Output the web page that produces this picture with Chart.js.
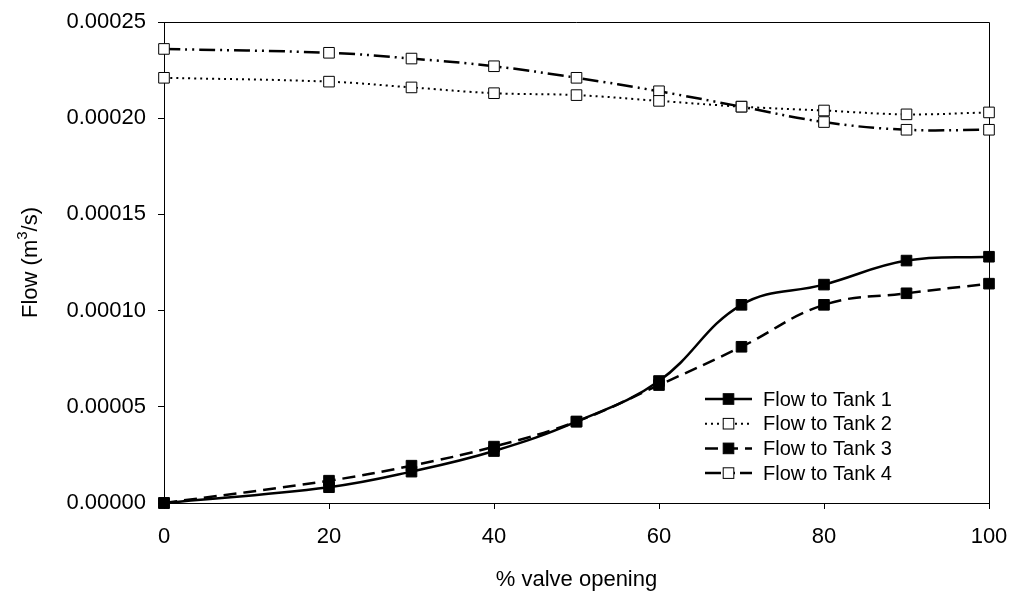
<!DOCTYPE html>
<html>
<head>
<meta charset="utf-8">
<script src="https://cdn.jsdelivr.net/npm/chart.js@4.4.1/dist/chart.umd.min.js"></script>
<style>
    html, body { margin: 0; padding: 0; background: #fff; }
    #grafico-box { width: 1014px; height: 597px; }
</style>
</head>
<body>
<div id="grafico-box"><canvas id="myChart"></canvas></div>
<script>
const aberturaValvula = [0, 20, 30, 40, 50, 60, 70, 80, 90, 100];
const vazaoTanque1 = [0, 0.0000082, 0.0000163, 0.000027, 0.0000423, 0.0000634, 0.000103, 0.0001135, 0.000126, 0.000128];
const vazaoTanque2 = [0.000221, 0.000219, 0.000216, 0.000213, 0.000212, 0.000209, 0.000206, 0.000204, 0.000202, 0.000203];
const vazaoTanque3 = [0, 0.0000116, 0.0000194, 0.0000293, 0.0000423, 0.0000613, 0.0000812, 0.000103, 0.000109, 0.000114];
const vazaoTanque4 = [0.000236, 0.000234, 0.000231, 0.000227, 0.000221, 0.000214, 0.000206, 0.000198, 0.000194, 0.000194];
const nomesSeries = ["Flow to Tank 1", "Flow to Tank 2", "Flow to Tank 3", "Flow to Tank 4"];
const ticksX = [0, 20, 40, 60, 80, 100];
const ticksY = [0, 0.00005, 0.0001, 0.00015, 0.0002, 0.00025];

const fonte = "Arial, 'Liberation Sans', sans-serif";
const cor = "#000";

function pontos(valores) {
    return aberturaValvula.map((x, i) => ({ x: x, y: valores[i] }));
}

function serie(indice, valores, tracejado, largura, cheio) {
    return {
        label: nomesSeries[indice],
        data: pontos(valores),
        borderColor: cor,
        borderWidth: largura,
        borderDash: tracejado,
        tension: 0.4,
        pointStyle: "rect",
        pointRadius: 7.5,
        pointHoverRadius: 7.5,
        pointBorderWidth: 1,
        pointBorderColor: cor,
        pointBackgroundColor: cheio ? cor : "#fff",
        clip: false
    };
}

// legenda desenhada dentro da area do grafico, com a linha e o marcador de cada serie
const legendaInterna = {
    id: "legendaInterna",
    afterDatasetsDraw(chart) {
        const ctx = chart.ctx;
        const area = chart.chartArea;
        const x0 = area.left + 541;
        const x1 = x0 + 47;
        ctx.save();
        chart.data.datasets.forEach((ds, i) => {
            const y = area.top + 377 + i * 24.7;
            ctx.beginPath();
            ctx.setLineDash(ds.borderDash);
            ctx.lineWidth = ds.borderWidth;
            ctx.strokeStyle = cor;
            ctx.moveTo(x0, y);
            ctx.lineTo(x1, y);
            ctx.stroke();
            ctx.setLineDash([]);
            const lado = 10.6;
            const xm = (x0 + x1) / 2;
            ctx.fillStyle = ds.pointBackgroundColor;
            ctx.fillRect(xm - lado / 2, y - lado / 2, lado, lado);
            ctx.lineWidth = 1;
            ctx.strokeRect(xm - lado / 2, y - lado / 2, lado, lado);
            ctx.fillStyle = cor;
            ctx.font = "20px " + fonte;
            ctx.textAlign = "left";
            ctx.textBaseline = "middle";
            ctx.fillText(ds.label, x1 + 11, y + 1);
        });
        ctx.restore();
    }
};

// moldura de cima e da direita, e os titulos dos eixos
const molduraETitulos = {
    id: "molduraETitulos",
    beforeDatasetsDraw(chart) {
        const ctx = chart.ctx;
        const a = chart.chartArea;
        ctx.save();
        ctx.strokeStyle = cor;
        ctx.lineWidth = 1;
        ctx.beginPath();
        ctx.moveTo(a.left, a.top + 0.5);
        ctx.lineTo(a.right + 0.5, a.top + 0.5);
        ctx.lineTo(a.right + 0.5, a.bottom);
        ctx.stroke();
        ctx.restore();
    },
    afterDraw(chart) {
        const ctx = chart.ctx;
        const a = chart.chartArea;
        ctx.save();
        ctx.fillStyle = cor;
        ctx.textBaseline = "middle";
        ctx.font = "22px " + fonte;
        ctx.textAlign = "center";
        ctx.fillText("% valve opening", (a.left + a.right) / 2, 580);

        ctx.translate(31, (a.top + a.bottom) / 2);
        ctx.rotate(-Math.PI / 2);
        const parte1 = "Flow (m";
        const parte2 = "/s)";
        ctx.font = "22px " + fonte;
        const w1 = ctx.measureText(parte1).width;
        const w3 = ctx.measureText(parte2).width;
        ctx.font = "15px " + fonte;
        const w2 = ctx.measureText("3").width;
        let x = -(w1 + w2 + w3) / 2;
        ctx.textAlign = "left";
        ctx.font = "22px " + fonte;
        ctx.fillText(parte1, x, 0);
        x += w1;
        ctx.font = "15px " + fonte;
        ctx.fillText("3", x, -8);
        x += w2;
        ctx.font = "22px " + fonte;
        ctx.fillText(parte2, x, 0);
        ctx.restore();
    }
};

window.onload = criarGrafico;

function criarGrafico() {
    const ctx = document.querySelector("#myChart");
    new Chart(ctx, {
        type: "line",
        data: {
            datasets: [
                serie(0, vazaoTanque1, [], 2.5, true),
                serie(1, vazaoTanque2, [2, 4], 2, false),
                serie(2, vazaoTanque3, [13, 7], 2.5, true),
                serie(3, vazaoTanque4, [16, 5, 2, 5, 2, 5], 2.5, false)
            ]
        },
        options: {
            responsive: true,
            maintainAspectRatio: false,
            animation: false,
            layout: { padding: { left: 0, right: 25, top: 22, bottom: 0 } },
            plugins: {
                legend: { display: false },
                tooltip: { enabled: false }
            },
            scales: {
                x: {
                    type: "linear",
                    min: 0,
                    max: 100,
                    afterBuildTicks: (eixo) => { eixo.ticks = ticksX.map(v => ({ value: v })); },
                    afterFit: (eixo) => {
                        eixo.height = 94;
                        eixo.paddingLeft = 0;
                        eixo.paddingRight = 0;
                    },
                    grid: { drawOnChartArea: false, tickLength: 6, color: cor },
                    border: { color: cor, width: 1 },
                    ticks: { color: cor, font: { family: fonte, size: 22 }, padding: 15 }
                },
                y: {
                    min: 0,
                    max: 0.00025,
                    afterBuildTicks: (eixo) => { eixo.ticks = ticksY.map(v => ({ value: v })); },
                    afterFit: (eixo) => {
                        eixo.width = 164;
                        eixo.paddingTop = 0;
                        eixo.paddingBottom = 0;
                    },
                    grid: { drawOnChartArea: false, tickLength: 6, color: cor },
                    border: { color: cor, width: 1 },
                    ticks: {
                        color: cor,
                        font: { family: fonte, size: 22 },
                        padding: 12,
                        callback: (v) => v.toFixed(5)
                    }
                }
            }
        },
        plugins: [legendaInterna, molduraETitulos]
    });
}
</script>
</body>
</html>
